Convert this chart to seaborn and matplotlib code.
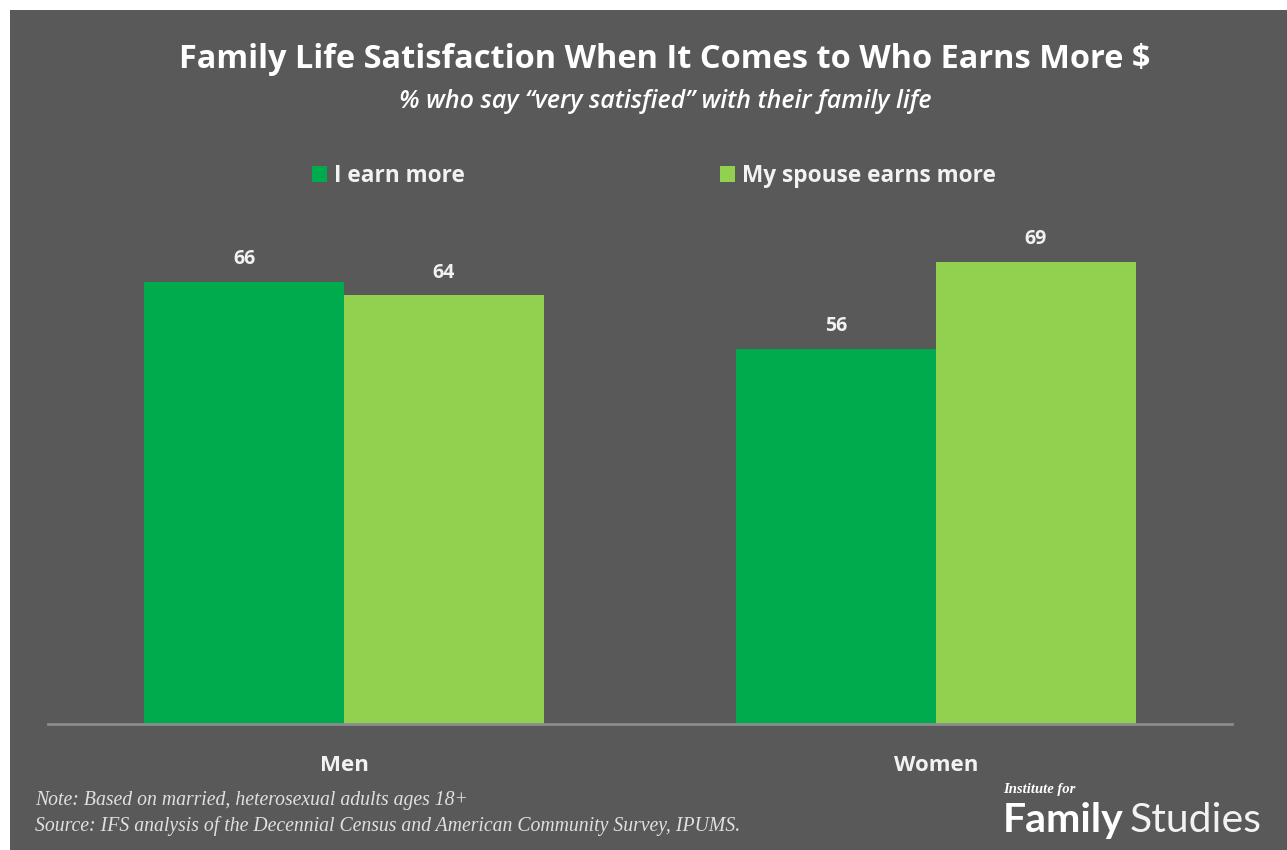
import matplotlib
matplotlib.use("Agg")
import matplotlib.pyplot as plt
import seaborn as sns
import pandas as pd
from matplotlib.patches import Rectangle, Patch

# ---- data ----
groups = ["Men", "Women"]
series = ["I earn more", "My spouse earns more"]
i_earn_more = [66, 56]
spouse_earns_more = [64, 69]

title = "Family Life Satisfaction When It Comes to Who Earns More $"
subtitle = "% who say \u201cvery satisfied\u201d with their family life"
note1 = "Note: Based on married, heterosexual adults ages 18+"
note2 = "Source: IFS analysis of the Decennial Census and American Community Survey, IPUMS."

BG = "#595959"
C1 = "#00AB4E"
C2 = "#92D050"

df = pd.DataFrame({
    "group": groups * 2,
    "series": [series[0]] * 2 + [series[1]] * 2,
    "value": i_earn_more + spouse_earns_more,
})

sns.set_theme(style="white")
plt.rcParams["font.family"] = ["Open Sans", "DejaVu Sans"]

W, H = 1287, 850
fig = plt.figure(figsize=(W / 100, H / 100), dpi=100, facecolor="white")
# dark panel
fig.patches.append(Rectangle((10 / W, 0), (W - 10) / W, (H - 10) / H,
                             transform=fig.transFigure, facecolor=BG,
                             edgecolor="none", zorder=-10))

ax = fig.add_axes([48 / W, 126 / H, 1184 / W, 536 / H])
ax.set_zorder(2)
ax.set_facecolor("none")
sns.barplot(data=df, x="group", y="value", hue="series", order=groups,
            hue_order=series, palette=[C1, C2], width=0.674, gap=0,
            saturation=1, ax=ax, legend=False, edgecolor="none", linewidth=0)
ax.set_xlim(-0.5, 1.5)
ax.set_ylim(0, 80)
for s in ["top", "right", "left"]:
    ax.spines[s].set_visible(False)
ax.spines["bottom"].set_color("#8C8C8C")
ax.spines["bottom"].set_linewidth(2)
ax.set_yticks([])
ax.set_xlabel("")
ax.set_ylabel("")
ax.tick_params(axis="x", length=0, pad=22, labelsize=16, labelcolor="#F2F2F2")
for lbl in ax.get_xticklabels():
    lbl.set_fontweight("bold")

for cont in ax.containers:
    ax.bar_label(cont, fmt="%d", padding=9, color="#F2F2F2", fontsize=14,
                 fontweight="bold")

# legend
handles = [Patch(facecolor=C1, edgecolor="none"), Patch(facecolor=C2, edgecolor="none")]
leg = fig.legend(handles, series, loc="center", bbox_to_anchor=(654 / W, 1 - 176 / H),
                 ncol=2, frameon=False, fontsize=16.3, handlelength=0.65,
                 handleheight=0.65, handletextpad=0.3, columnspacing=11.3,
                 labelcolor="#F2F2F2")
for t in leg.get_texts():
    t.set_fontweight("bold")

# titles
fig.text(665 / W, 1 - 59 / H, title, ha="center", va="center", color="white",
         fontsize=23.4, fontweight="bold")
fig.text(665 / W, 1 - 101 / H, subtitle, ha="center", va="center", color="white",
         fontsize=18, fontweight="semibold", fontstyle="italic")

# notes
fig.text(35 / W, 1 - 800 / H, note1, ha="left", va="center", color="#E0E0E0",
         fontsize=14.2, fontstyle="italic", family=["Liberation Serif"])
fig.text(35 / W, 1 - 826 / H, note2, ha="left", va="center", color="#E0E0E0",
         fontsize=14.2, fontstyle="italic", family=["Liberation Serif"])

# logo
fig.text(1003 / W, 1 - 789 / H, "Institute for", ha="left", va="center",
         color="white", fontsize=10.5, fontstyle="italic", fontweight="bold",
         family=["Liberation Serif"])
fig.text(1003 / W, 1 - 832 / H, "Family", ha="left", va="baseline",
         color="white", fontsize=29.5, fontweight="bold", family=["Lato", "DejaVu Sans"])
fig.text(1130 / W, 1 - 832 / H, "Studies", ha="left", va="baseline",
         color="#F2F2F2", fontsize=29.5, fontweight="normal", family=["Lato", "DejaVu Sans"])

fig.savefig("out.png", dpi=100, facecolor="white")
